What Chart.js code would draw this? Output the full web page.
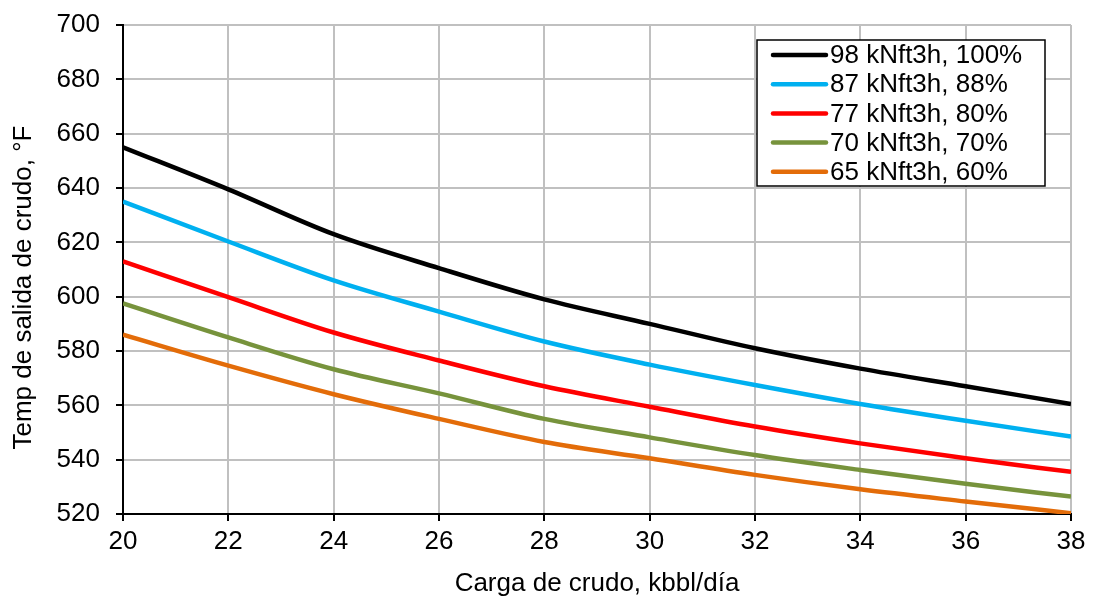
<!DOCTYPE html>
<html lang="es">
<head>
  <meta charset="UTF-8">
  <title>Temp de salida de crudo vs carga</title>
  <script src="https://cdn.jsdelivr.net/npm/chart.js"></script>
  <style>
    html, body { margin: 0; padding: 0; background: #fff; }
    .chart-container { width: 1095px; height: 596px; }
  </style>
</head>
<body>
  <div class="chart-container">
    <canvas id="chart"></canvas>
  </div>

  <script>
    // carga de crudo (kbbl/día)
    const carga = [20, 22, 24, 26, 28, 30, 32, 34, 36, 38];

    // temperatura de salida (°F) por caso de gas
    const t98 = [655, 639.5, 623, 610.5, 599, 590, 581, 573.5, 567, 560.5];
    const t87 = [635, 620.3, 606, 594.5, 583.5, 575, 567.5, 560.5, 554.3, 548.5];
    const t77 = [613, 599.8, 586.8, 576.5, 567, 559.5, 552.2, 546, 540.5, 535.5];
    const t70 = [597.5, 585, 573.3, 564.4, 555, 548.2, 541.7, 536.2, 531.1, 526.4];
    const t65 = [586, 574.6, 564.1, 555, 546.5, 540.5, 534.4, 529.1, 524.6, 520.3];

    const etiquetas = ["98 kNft3h, 100%", "87 kNft3h, 88%", "77 kNft3h, 80%", "70 kNft3h, 70%", "65 kNft3h, 60%"];
    const colores = ["#000000", "#00b0f0", "#ff0000", "#77933c", "#e36c09"];
    const series = [t98, t87, t77, t70, t65];

    const FUENTE = 26;
    Chart.defaults.font.family = 'Arial, "Liberation Sans", sans-serif';
    Chart.defaults.color = "#000";

    // leyenda con recuadro dentro del área del gráfico
    const leyendaCaja = {
      id: "leyendaCaja",
      afterDraw(chart) {
        const ctx = chart.ctx;
        const x0 = 757, y0 = 40, w = 288, h = 146;
        ctx.save();
        ctx.fillStyle = "#fff";
        ctx.fillRect(x0, y0, w, h);
        ctx.strokeStyle = "#000";
        ctx.lineWidth = 1.5;
        ctx.strokeRect(x0, y0, w, h);
        ctx.font = FUENTE + 'px Arial, "Liberation Sans", sans-serif';
        ctx.textBaseline = "middle";
        chart.data.datasets.forEach((ds, i) => {
          const y = y0 + 15 + i * 29.2;
          ctx.strokeStyle = ds.borderColor;
          ctx.lineWidth = 4.5;
          ctx.lineCap = "round";
          ctx.beginPath();
          ctx.moveTo(773, y);
          ctx.lineTo(826, y);
          ctx.stroke();
          ctx.fillStyle = "#000";
          ctx.fillText(ds.label, 830, y + 1);
        });
        ctx.restore();
      }
    };

    const ctx = document.getElementById("chart").getContext("2d");
    new Chart(ctx, {
      type: "line",
      data: {
        datasets: series.map((vals, i) => ({
          label: etiquetas[i],
          data: vals.map((v, j) => ({ x: carga[j], y: v })),
          borderColor: colores[i],
          backgroundColor: colores[i],
          borderWidth: 4.5,
          pointRadius: 0,
          cubicInterpolationMode: "monotone",
          fill: false
        }))
      },
      options: {
        responsive: true,
        maintainAspectRatio: false,
        animation: false,
        layout: { padding: { top: 25, right: 24, left: 0, bottom: 0 } },
        plugins: {
          legend: { display: false },
          tooltip: { enabled: false }
        },
        scales: {
          x: {
            type: "linear",
            min: 20,
            max: 38,
            ticks: { stepSize: 2, font: { size: FUENTE }, padding: 5, maxRotation: 0 },
            grid: { color: "#c0c0c0", lineWidth: 2, tickColor: "#000", tickLength: 7 },
            border: { color: "#000", width: 2 },
            title: {
              display: true,
              text: "Carga de crudo, kbbl/día",
              font: { size: FUENTE },
              padding: { top: 0, bottom: -3 }
            },
            afterFit(scale) { scale.height = 82; }
          },
          y: {
            min: 520,
            max: 700,
            ticks: { stepSize: 20, font: { size: FUENTE }, padding: 16 },
            grid: { color: "#c0c0c0", lineWidth: 2, tickColor: "#000", tickLength: 7 },
            border: { color: "#000", width: 2 },
            title: {
              display: true,
              text: "Temp de salida de crudo, °F\u00a0\u00a0\u00a0\u00a0\u00a0",
              font: { size: FUENTE },
              padding: { top: 8, bottom: 0 }
            },
            afterFit(scale) {
              scale.width = 123;
              // el margen superior lo fija layout.padding
              scale.paddingTop = 0;
              scale.paddingBottom = 0;
            }
          }
        }
      },
      plugins: [leyendaCaja]
    });
  </script>
</body>
</html>
